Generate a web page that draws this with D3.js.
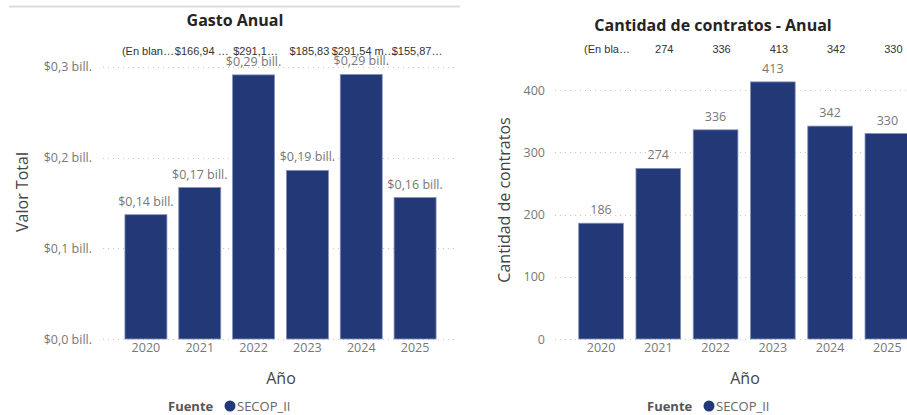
<!DOCTYPE html>
<html><head><meta charset="utf-8">
<script src="https://cdn.jsdelivr.net/npm/d3@7"></script>
<style>
html,body{margin:0;padding:0;background:#fff;overflow:hidden}
svg{display:block}
</style></head>
<body>
<svg id="c" width="907" height="415"></svg>
<script>
// ---- data ----
const years = ["2020","2021","2022","2023","2024","2025"];
const gastoValues = [0.137, 0.16694, 0.2911, 0.18583, 0.29154, 0.15587]; // billones
const gastoLabels = ["$0,14 bill.","$0,17 bill.","$0,29 bill.","$0,19 bill.","$0,29 bill.","$0,16 bill."];
const gastoTopRow = ["(En blan…","$166,94 …","$291,1…","$185,83","$291,54 m…","$155,87…"];
const gastoTicks = [0, 0.1, 0.2, 0.3];
const gastoTickLabels = ["$0,0 bill.","$0,1 bill.","$0,2 bill.","$0,3 bill."];
const contratosValues = [186, 274, 336, 413, 342, 330];
const contratosTopRow = ["(En bla…","274","336","413","342","330"];
const contratosTicks = [0, 100, 200, 300, 400];
const legendTitle = "Fuente";
const seriesName = "SECOP_II";

const BAR = "#233876";
const FONT = "'Segoe UI','Open Sans',sans-serif";
const svg = d3.select("#c");

// top divider line of left visual
svg.append("line").attr("x1",9).attr("x2",460).attr("y1",6.5).attr("y2",6.5)
  .attr("stroke","#dcdcdc").attr("stroke-width",2);

function drawChart(o){
  const g = svg.append("g");
  const x = d3.scaleBand().domain(years).range(o.xRange).paddingInner(0.22).paddingOuter(0.11);
  const y = d3.scaleLinear().domain(o.yDomain).range([339, o.yTopPx]);

  // grid
  g.selectAll(".grid").data(o.ticks).join("line")
    .attr("x1",o.gridX0).attr("x2",o.gridX1)
    .attr("y1",d=>Math.round(y(d))+0.5).attr("y2",d=>Math.round(y(d))+0.5)
    .attr("stroke","#c8c8c8").attr("stroke-width",1).attr("stroke-dasharray","1,4");

  // y axis labels
  const yAxis = d3.axisLeft(y).tickValues(o.ticks).tickSize(0).tickPadding(0)
    .tickFormat((d,i)=>o.tickLabels ? o.tickLabels[i] : d3.format("d")(d));
  const ya = g.append("g").attr("transform",`translate(${o.yLabelX},0)`).call(yAxis);
  ya.select(".domain").remove();
  ya.selectAll("text").attr("fill","#777").style("font-family",FONT).style("font-size","12.5px");

  // x axis labels
  const xAxis = d3.axisBottom(x).tickSize(0).tickPadding(0);
  const xa = g.append("g").attr("transform",`translate(0,343)`).call(xAxis);
  xa.select(".domain").remove();
  xa.selectAll("text").attr("fill","#777").style("font-family",FONT).style("font-size","12.5px");

  // bars
  g.selectAll(".bar").data(o.values).join("rect")
    .attr("x",(d,i)=>x(years[i])).attr("width",x.bandwidth())
    .attr("y",d=>y(d)).attr("height",d=>y(0)-y(d))
    .attr("fill",BAR).attr("stroke","#8391b8").attr("stroke-width",0.8);

  // data labels
  g.selectAll(".dl").data(o.values).join("text")
    .attr("x",(d,i)=>x(years[i])+x.bandwidth()/2).attr("y",d=>y(d)-9)
    .attr("text-anchor","middle").attr("fill","#777")
    .style("font-family",FONT).style("font-size","12.5px")
    .text((d,i)=>o.dataLabels[i]);

  // top row labels
  g.selectAll(".tr").data(o.topRow).join("text")
    .attr("x",(d,i)=>x(years[i])+x.bandwidth()/2+o.topShift).attr("y",o.topY)
    .attr("text-anchor","middle").attr("fill","#333")
    .style("font-family","'Liberation Sans',Arial,sans-serif").style("font-size","11px")
    .text(d=>d);

  // title
  g.append("text").attr("x",o.titleX).attr("y",o.titleY).attr("text-anchor","middle")
    .attr("fill","#252423").style("font-family",FONT).style("font-size","16px").style("font-weight","bold")
    .text(o.title);

  // axis titles
  g.append("text").attr("transform",`translate(${o.yTitleX},${o.yTitleY}) rotate(-90)`)
    .attr("text-anchor","middle").attr("fill","#444")
    .style("font-family",FONT).style("font-size","16px").text(o.yTitle);
  g.append("text").attr("x",o.xTitleX).attr("y",384).attr("text-anchor","middle").attr("fill","#444")
    .style("font-family",FONT).style("font-size","16px").text("Año");

  // legend
  const lg = g.append("g").attr("transform",`translate(${o.legX},411)`);
  lg.append("text").attr("x",0).attr("y",0).attr("fill","#555")
    .style("font-family",FONT).style("font-size","13px").style("font-weight","bold").text(legendTitle);
  lg.append("circle").attr("cx",62).attr("cy",-5).attr("r",5.5).attr("fill",BAR);
  lg.append("text").attr("x",69).attr("y",0).attr("fill","#666")
    .style("font-family",FONT).style("font-size","13px").text(seriesName);
}

drawChart({
  xRange:[119,442], yDomain:[0,0.3], yTopPx:66.8, ticks:gastoTicks, tickLabels:gastoTickLabels,
  gridX0:103, gridX1:458, yLabelX:92, values:gastoValues, dataLabels:gastoLabels,
  topRow:gastoTopRow, topY:55, topShift:2, title:"Gasto Anual", titleX:235, titleY:26,
  yTitle:"Valor Total", yTitleX:28, yTitleY:192, xTitleX:281, legX:168
});
drawChart({
  xRange:[572.4,916], yDomain:[0,400], yTopPx:90, ticks:contratosTicks, tickLabels:null,
  gridX0:555, gridX1:907, yLabelX:545, values:contratosValues, dataLabels:contratosValues.map(String),
  topRow:contratosTopRow, topY:53, topShift:6, title:"Cantidad de contratos - Anual", titleX:713, titleY:31,
  yTitle:"Cantidad de contratos", yTitleX:510, yTitleY:200, xTitleX:745, legX:647
});
</script>
</body></html>
